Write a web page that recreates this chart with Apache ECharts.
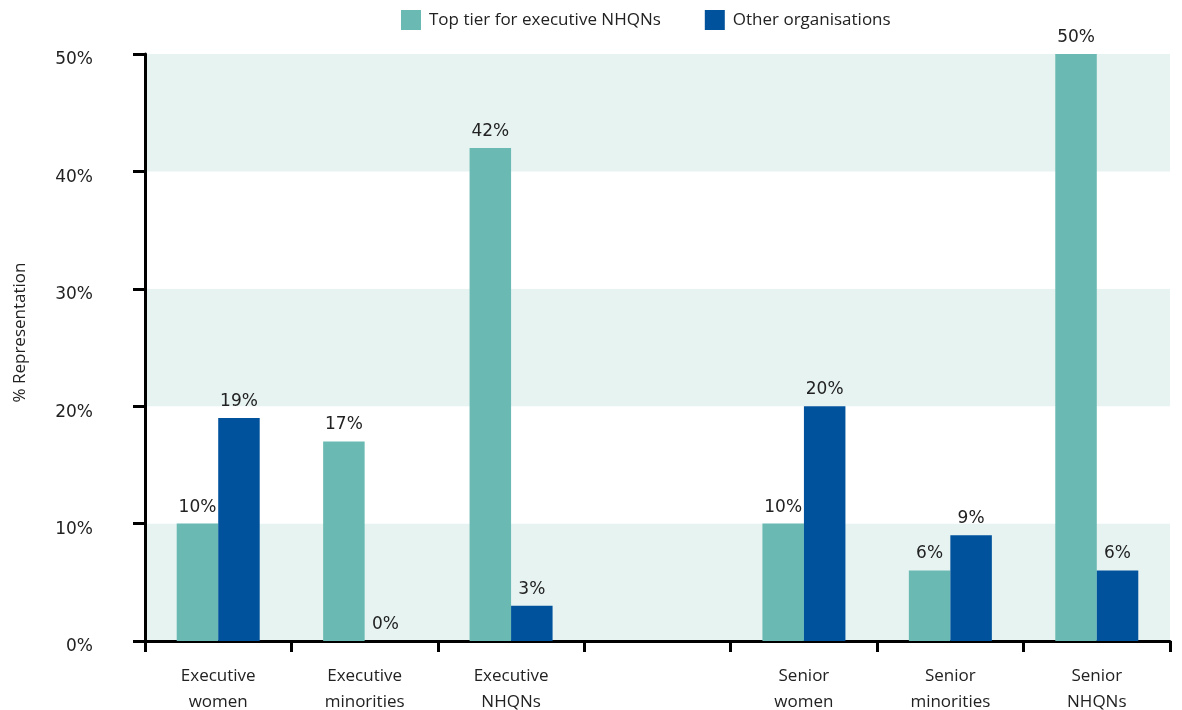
<!DOCTYPE html>
<html>
<head>
<meta charset="utf-8">
<script src="https://cdn.jsdelivr.net/npm/echarts@6/dist/echarts.min.js"></script>
<style>
  html, body { margin: 0; padding: 0; background: #ffffff; }
  #chart { width: 1182px; height: 710px; }
</style>
</head>
<body>
<div id="chart"></div>
<script>
// Categories (the blank entry separates executive and senior groups)
const categories = ['Executive\nwomen', 'Executive\nminorities', 'Executive\nNHQNs', '', 'Senior\nwomen', 'Senior\nminorities', 'Senior\nNHQNs'];
const seriesNames = ['Top tier for executive NHQNs', 'Other organisations'];
const topTier = [10, 17, 42, null, 10, 6, 50];
const otherOrgs = [19, 0, 3, null, 20, 9, 6];
const yTicks = [0, 10, 20, 30, 40, 50];

const FONT = '"Open Sans", "Noto Sans", sans-serif';
const NUM_FONT = '"DejaVu Sans", "Open Sans", sans-serif';
const TEXT = '#222222';
const TEAL = '#6abab3';
const BLUE = '#00529c';

const chart = echarts.init(document.getElementById('chart'), null, { renderer: 'canvas' });

function barSeries(name, data, color) {
  return {
    name: name,
    type: 'bar',
    data: data,
    barWidth: 41.5,
    barGap: '0%',
    itemStyle: { color: color },
    label: {
      show: true,
      position: 'top',
      distance: 8,
      formatter: p => p.value + '%',
      color: TEXT,
      fontFamily: NUM_FONT,
      fontSize: 17
    }
  };
}

chart.setOption({
  backgroundColor: '#ffffff',
  animation: false,
  textStyle: { fontFamily: FONT },
  legend: {
    top: 5,
    left: 396,
    itemWidth: 20,
    itemHeight: 20,
    itemGap: 44,
    icon: 'rect',
    data: seriesNames,
    textStyle: { color: TEXT, fontFamily: FONT, fontSize: 17, padding: [0, 0, 0, 3] }
  },
  grid: { left: 145, right: 12, top: 54, bottom: 69, containLabel: false, outerBoundsMode: 'none' },
  xAxis: {
    type: 'category',
    data: categories,
    axisLine: { show: true, lineStyle: { color: '#000', width: 3 } },
    axisTick: { show: true, length: 11, lineStyle: { color: '#000', width: 3 } },
    axisLabel: {
      color: TEXT,
      fontFamily: FONT,
      fontSize: 17,
      lineHeight: 26,
      margin: 22,
      interval: 0
    },
    splitLine: { show: false }
  },
  yAxis: {
    type: 'value',
    min: yTicks[0],
    max: yTicks[yTicks.length - 1],
    interval: 10,
    name: '% Representation',
    nameLocation: 'middle',
    nameGap: 116,
    nameRotate: 90,
    nameTextStyle: { color: TEXT, fontFamily: FONT, fontSize: 17, padding: [0, 0, 0, 30] },
    axisLine: { show: true, lineStyle: { color: '#000', width: 3 } },
    axisTick: { show: true, length: 12, lineStyle: { color: '#000', width: 3 } },
    axisLabel: {
      color: TEXT,
      fontFamily: NUM_FONT,
      fontSize: 17,
      margin: 52,
      verticalAlign: 'top',
      lineHeight: 12,
      formatter: v => v + '%'
    },
    splitLine: { show: false },
    splitArea: {
      show: true,
      areaStyle: { color: ['#e6f3f1', '#ffffff'] }
    }
  },
  series: [
    barSeries(seriesNames[0], topTier, TEAL),
    barSeries(seriesNames[1], otherOrgs, BLUE)
  ]
});
</script>
</body>
</html>
